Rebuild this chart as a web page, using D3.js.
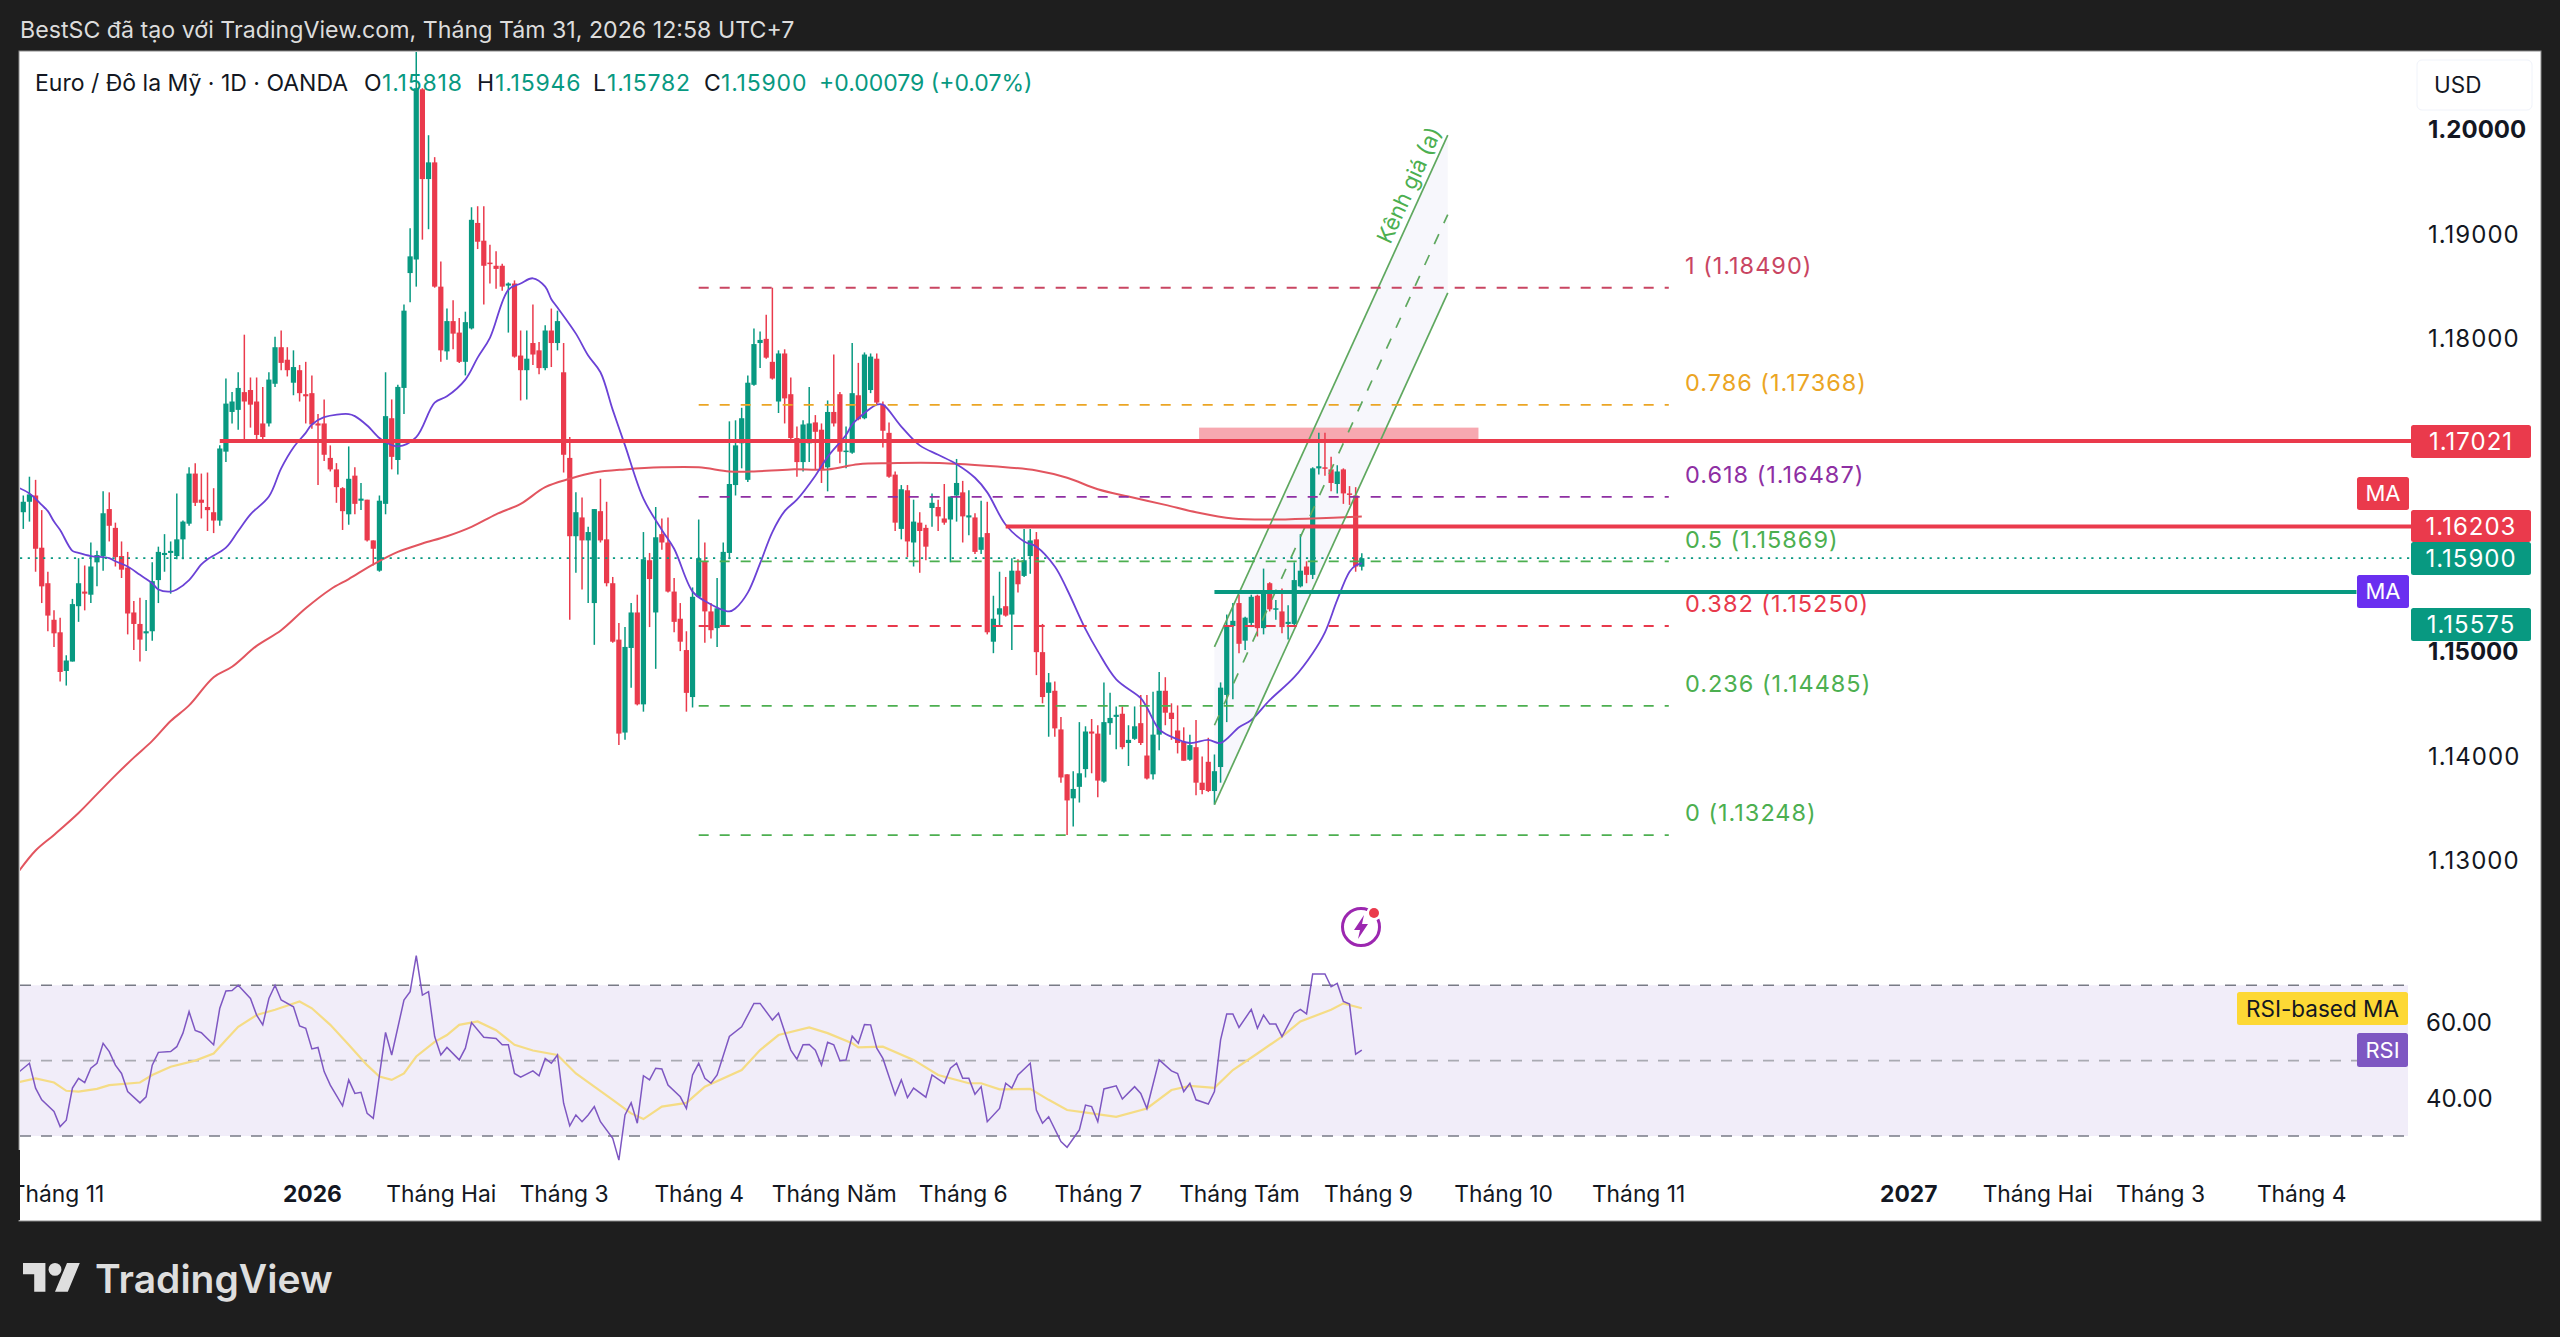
<!DOCTYPE html>
<html>
<head>
<meta charset="utf-8">
<title>EURUSD</title>
<script src="https://cdn.jsdelivr.net/npm/d3@7"></script>
<style>
html, body { margin: 0; padding: 0; background: #1e1e1e; }
svg { display: block; }
text { font-family: Inter, "Noto Sans", sans-serif; }
</style>
</head>
<body>
<script>
"use strict";
const candleOpen = [1.1634,1.1644,1.1650,1.1600,1.1566,1.1531,1.1519,1.1482,1.1491,1.1544,1.1558,1.1555,1.1586,1.1592,1.1637,1.1619,1.1592,1.1581,1.1538,1.1527,1.1518,1.1520,1.1569,1.1593,1.1595,1.1592,1.1608,1.1623,1.1671,1.1646,1.1639,1.1634,1.1626,1.1692,1.1730,1.1732,1.1749,1.1751,1.1740,1.1719,1.1719,1.1757,1.1792,1.1780,1.1758,1.1770,1.1747,1.1748,1.1719,1.1719,1.1686,1.1675,1.1657,1.1632,1.1669,1.1645,1.1646,1.1607,1.1578,1.1642,1.1724,1.1684,1.1753,1.1863,1.1876,1.2039,1.1953,1.1969,1.1850,1.1788,1.1817,1.1806,1.1778,1.1810,1.1911,1.1894,1.1873,1.1870,1.1870,1.1851,1.1853,1.1784,1.1770,1.1796,1.1789,1.1772,1.1808,1.1796,1.1768,1.1686,1.1611,1.1629,1.1607,1.1547,1.1635,1.1608,1.1566,1.1512,1.1423,1.1504,1.1538,1.1450,1.1588,1.1538,1.1613,1.1605,1.1558,1.1532,1.1502,1.1457,1.1553,1.1587,1.1539,1.1523,1.1526,1.1595,1.1660,1.1700,1.1665,1.1756,1.1796,1.1800,1.1778,1.1740,1.1786,1.1747,1.1705,1.1682,1.1700,1.1720,1.1713,1.1677,1.1730,1.1747,1.1692,1.1691,1.1746,1.1724,1.1751,1.1781,1.1737,1.1710,1.1670,1.1618,1.1655,1.1605,1.1624,1.1619,1.1638,1.1639,1.1628,1.1627,1.1650,1.1653,1.1629,1.1629,1.1598,1.1614,1.1510,1.1536,1.1544,1.1536,1.1578,1.1573,1.1592,1.1608,1.1500,1.1461,1.1463,1.1426,1.1383,1.1360,1.1371,1.1388,1.1424,1.1422,1.1376,1.1432,1.1438,1.1441,1.1413,1.1417,1.1432,1.1401,1.1383,1.1421,1.1463,1.1442,1.1425,1.1414,1.1397,1.1409,1.1375,1.1395,1.1367,1.1390,1.1459,1.1525,1.1547,1.1511,1.1528,1.1554,1.1523,1.1566,1.1541,1.1539,1.1527,1.1527,1.1563,1.1582,1.1574,1.1676,1.1677,1.1675,1.1661,1.1675,1.1652,1.1650,1.15818];
const candleHigh = [1.1650,1.1668,1.1665,1.1636,1.1577,1.1540,1.1533,1.1497,1.1551,1.1590,1.1583,1.1605,1.1597,1.1654,1.1653,1.1624,1.1606,1.1596,1.1549,1.1552,1.1550,1.1586,1.1601,1.1613,1.1606,1.1652,1.1626,1.1677,1.1681,1.1671,1.1672,1.1657,1.1698,1.1762,1.1749,1.1768,1.1804,1.1763,1.1763,1.1754,1.1768,1.1802,1.1808,1.1792,1.1789,1.1775,1.1778,1.1765,1.1728,1.1742,1.1698,1.1681,1.1658,1.1697,1.1677,1.1662,1.1646,1.1607,1.1650,1.1768,1.1742,1.1756,1.1833,1.1906,1.2075,1.2040,1.1995,1.1974,1.1874,1.1829,1.1837,1.1820,1.1826,1.1926,1.1927,1.1927,1.1890,1.1884,1.1872,1.1854,1.1856,1.1808,1.1808,1.1833,1.1797,1.1813,1.1829,1.1827,1.1796,1.1706,1.1653,1.1648,1.1620,1.1637,1.1666,1.1644,1.1572,1.1528,1.1524,1.1547,1.1555,1.1615,1.1595,1.1639,1.1628,1.1629,1.1571,1.1547,1.1520,1.1562,1.1627,1.1605,1.1547,1.1571,1.1605,1.1721,1.1722,1.1734,1.1765,1.1810,1.1807,1.1823,1.1849,1.1789,1.1790,1.1763,1.1716,1.1722,1.1754,1.1727,1.1719,1.1741,1.1785,1.1749,1.1716,1.1796,1.1777,1.1787,1.1786,1.1786,1.1740,1.1720,1.1673,1.1660,1.1660,1.1646,1.1634,1.1622,1.1652,1.1646,1.1661,1.1649,1.1685,1.1664,1.1655,1.1633,1.1645,1.1644,1.1554,1.1577,1.1572,1.1590,1.1589,1.1618,1.1618,1.1615,1.1527,1.1480,1.1472,1.1438,1.1383,1.1386,1.1433,1.1429,1.1436,1.1430,1.1471,1.1461,1.1448,1.1448,1.1430,1.1448,1.1459,1.1459,1.1462,1.1481,1.1476,1.1451,1.1449,1.1428,1.1421,1.1435,1.1400,1.1418,1.1402,1.1471,1.1536,1.1547,1.1555,1.1534,1.1555,1.1555,1.1580,1.1567,1.1550,1.1561,1.1545,1.1586,1.1613,1.1587,1.1677,1.1710,1.1710,1.1687,1.1679,1.1676,1.1659,1.1658,1.15946];
const candleLow = [1.1618,1.1625,1.1577,1.1547,1.1520,1.1505,1.1472,1.1468,1.1491,1.1529,1.1540,1.1547,1.1563,1.1578,1.1606,1.1582,1.1571,1.1517,1.1502,1.1491,1.1501,1.1511,1.1547,1.1577,1.1556,1.1589,1.1589,1.1621,1.1640,1.1628,1.1616,1.1614,1.1621,1.1682,1.1719,1.1713,1.1703,1.1715,1.1703,1.1701,1.1716,1.1754,1.1770,1.1764,1.1746,1.1740,1.1719,1.1714,1.1660,1.1683,1.1673,1.1643,1.1617,1.1622,1.1632,1.1636,1.1606,1.1583,1.1577,1.1632,1.1675,1.1670,1.1728,1.1835,1.1850,1.1895,1.1905,1.1849,1.1778,1.1780,1.1790,1.1777,1.1765,1.1809,1.1886,1.1833,1.1853,1.1848,1.1846,1.1806,1.1782,1.1741,1.1742,1.1775,1.1766,1.1770,1.1773,1.1789,1.1672,1.1531,1.1576,1.1560,1.1547,1.1507,1.1605,1.1563,1.1509,1.1411,1.1416,1.1466,1.1449,1.1443,1.1524,1.1484,1.1598,1.1557,1.1519,1.1501,1.1443,1.1447,1.1552,1.1509,1.1513,1.1505,1.1524,1.1589,1.1650,1.1676,1.1663,1.1755,1.1772,1.1781,1.1761,1.1729,1.1719,1.1704,1.1668,1.1673,1.1682,1.1675,1.1662,1.1654,1.1716,1.1681,1.1676,1.1690,1.1722,1.1723,1.1748,1.1737,1.1696,1.1667,1.1616,1.1608,1.1591,1.1582,1.1576,1.1588,1.1620,1.1616,1.1622,1.1586,1.1625,1.1605,1.1612,1.1594,1.1594,1.1517,1.1499,1.1526,1.1534,1.1502,1.1557,1.1572,1.1575,1.1478,1.1451,1.1419,1.1419,1.1375,1.1325,1.1333,1.1356,1.1380,1.1384,1.1361,1.1375,1.1421,1.1407,1.1407,1.1391,1.1416,1.1411,1.1378,1.1378,1.1406,1.1430,1.1416,1.1403,1.1396,1.1396,1.1363,1.1364,1.1366,1.1354,1.1375,1.1433,1.1455,1.1499,1.1502,1.1524,1.1515,1.1517,1.1539,1.1531,1.1518,1.1512,1.1526,1.1562,1.1566,1.1570,1.1670,1.1669,1.1654,1.1652,1.1642,1.1641,1.1577,1.15782];
const candleClose = [1.1644,1.1651,1.1599,1.1563,1.1535,1.1518,1.1481,1.1492,1.1546,1.1566,1.1556,1.1582,1.1593,1.1633,1.1621,1.1591,1.1579,1.1537,1.1527,1.1512,1.1520,1.1568,1.1596,1.1595,1.1597,1.1608,1.1625,1.1671,1.1643,1.1643,1.1636,1.1626,1.1695,1.1738,1.1740,1.1753,1.1740,1.1737,1.1708,1.1706,1.1761,1.1792,1.1777,1.1770,1.1773,1.1748,1.1745,1.1718,1.1717,1.1689,1.1675,1.1658,1.1635,1.1666,1.1642,1.1647,1.1607,1.1599,1.1645,1.1726,1.1687,1.1754,1.1827,1.1879,1.2040,1.1953,1.1969,1.1850,1.1789,1.1817,1.1805,1.1778,1.1816,1.1914,1.1893,1.1870,1.1872,1.1867,1.1850,1.1853,1.1783,1.1770,1.1781,1.1785,1.1772,1.1808,1.1796,1.1817,1.1689,1.1611,1.1634,1.1607,1.1615,1.1637,1.1607,1.1566,1.1510,1.1422,1.1505,1.1538,1.1450,1.1589,1.1570,1.1610,1.1605,1.1558,1.1529,1.1510,1.1461,1.1553,1.1590,1.1539,1.1521,1.1542,1.1596,1.1661,1.1698,1.1724,1.1758,1.1795,1.1799,1.1782,1.1762,1.1786,1.1743,1.1705,1.1682,1.1718,1.1719,1.1711,1.1675,1.1730,1.1719,1.1692,1.1693,1.1748,1.1723,1.1785,1.1783,1.1739,1.1712,1.1668,1.1624,1.1656,1.1606,1.1625,1.1616,1.1601,1.1643,1.1630,1.1624,1.1649,1.1662,1.1630,1.1631,1.1596,1.1610,1.1519,1.1532,1.1542,1.1535,1.1578,1.1565,1.1588,1.1607,1.1500,1.1457,1.1471,1.1427,1.1380,1.1358,1.1369,1.1384,1.1424,1.1422,1.1377,1.1433,1.1437,1.1440,1.1409,1.1416,1.1429,1.1413,1.1379,1.1421,1.1463,1.1442,1.1436,1.1413,1.1396,1.1411,1.1375,1.1368,1.1367,1.1386,1.1466,1.1526,1.1530,1.1508,1.1533,1.1553,1.1523,1.1557,1.1541,1.1542,1.1524,1.1529,1.1569,1.1578,1.1574,1.1676,1.1678,1.1676,1.1662,1.1673,1.1652,1.1651,1.1582,1.15900];

const fastMaBars = [-1,1,3,4,5,6,8,9,11,14,15,17,19,21,22,24,25,27,29,30,33,35,37,40,42,44,46,47,49,53,54,56,58,59,61,64,67,69,72,74,76,79,81,83,85,86,87,90,92,94,96,98,101,104,106,109,111,115,116,118,120,122,124,126,129,131,134,135,136,139,140,143,146,149,152,155,157,160,163,165,168,170,173,175,178,182,183,185,187,190,193,195,198,200,203,207,210,212,214,216,217,218];
const fastMaValues = [1.1658,1.1652,1.1641,1.1635,1.1625,1.1617,1.1597,1.1595,1.1592,1.1590,1.1587,1.1582,1.1574,1.1566,1.1560,1.1558,1.1560,1.1569,1.1584,1.1589,1.1600,1.1616,1.1632,1.1649,1.1676,1.1696,1.1710,1.1718,1.1725,1.1728,1.1726,1.1717,1.1705,1.1701,1.1697,1.1706,1.1739,1.1745,1.1761,1.1782,1.1801,1.1847,1.1853,1.1858,1.1850,1.1838,1.1830,1.1805,1.1784,1.1768,1.1732,1.1698,1.1647,1.1617,1.1599,1.1558,1.1549,1.1539,1.1542,1.1557,1.1585,1.1615,1.1635,1.1646,1.1669,1.1687,1.1708,1.1718,1.1724,1.1737,1.1737,1.1716,1.1698,1.1689,1.1680,1.1667,1.1653,1.1622,1.1606,1.1601,1.1582,1.1560,1.1522,1.1501,1.1474,1.1456,1.1447,1.1426,1.1419,1.1413,1.1416,1.1413,1.1428,1.1435,1.1454,1.1476,1.1499,1.1519,1.1550,1.1577,1.1583,1.1585];

const slowMaBars = [-1,2,5,9,12,15,18,21,24,27,31,34,38,42,46,50,53,57,61,65,69,73,77,81,85,89,93,98,104,110,115,119,125,131,136,141,150,158,165,170,175,180,186,191,197,203,210,218];
const slowMaValues = [1.1288,1.1310,1.1325,1.1346,1.1364,1.1382,1.1399,1.1415,1.1434,1.1449,1.1476,1.1486,1.1506,1.1521,1.1542,1.1560,1.1570,1.1584,1.1596,1.1604,1.1611,1.1620,1.1632,1.1642,1.1658,1.1666,1.1672,1.1675,1.1677,1.1677,1.1673,1.1673,1.1675,1.1675,1.1680,1.1681,1.1681,1.1678,1.1674,1.1667,1.1656,1.1649,1.1641,1.1634,1.1628,1.1627,1.1628,1.1630];

const rsiBars = [-1,1,2,3,5,6,7,8,9,10,11,12,13,14,15,16,17,19,20,21,22,24,25,26,27,28,29,31,32,33,34,35,37,38,39,40,41,42,44,45,46,47,48,49,50,52,53,54,55,56,57,59,60,62,63,64,65,66,67,68,69,71,72,73,75,77,78,79,80,81,83,84,85,86,87,88,89,90,91,92,93,94,96,97,98,99,100,101,102,103,104,105,107,108,109,110,111,112,113,115,117,119,120,122,123,125,126,127,128,129,130,131,132,133,134,135,136,137,138,139,140,142,143,144,145,147,148,150,151,152,153,154,155,156,157,159,160,161,162,164,165,166,167,169,170,172,173,174,175,176,178,179,181,182,183,185,187,188,189,190,191,193,194,195,196,197,198,200,201,202,203,204,205,207,208,209,210,212,213,214,215,216,217,218];
const rsiValues = [46.6,49.3,42.7,39.6,36.5,32.5,34.2,42.7,45.3,44.2,48.0,49.3,54.6,52.4,48.8,46.6,41.8,38.8,40.4,48.8,52.2,52.4,53.7,57.3,63.0,58.0,57.4,54.2,63.9,68.5,68.6,70.0,66.5,62.1,59.5,66.5,70.0,66.1,64.3,59.2,58.6,53.1,53.5,47.1,43.5,38.0,44.9,41.3,41.6,36.0,34.7,57.5,51.5,66.1,68.3,77.9,67.4,68.3,56.4,51.5,53.5,50.2,53.3,60.1,56.2,55.9,54.2,54.2,46.6,45.6,47.3,46.0,50.6,49.3,51.5,38.7,32.7,35.6,33.8,35.6,37.8,33.8,29.4,23.6,35.6,38.8,33.4,46.0,44.9,48.0,47.8,43.5,40.4,37.3,46.2,49.3,45.3,44.0,46.2,56.4,59.0,65.2,65.2,60.8,62.6,52.8,50.4,54.2,54.3,52.8,48.8,54.9,54.2,50.0,50.2,56.5,54.6,59.6,59.5,53.3,50.6,40.9,44.9,40.2,42.7,40.3,46.2,44.0,48.0,49.3,45.3,45.3,41.1,43.1,33.8,37.3,44.0,42.7,46.2,49.3,36.9,33.4,35.1,28.5,27.0,31.6,38.2,37.8,33.8,42.5,43.3,39.8,43.1,41.3,37.3,50.2,47.3,46.6,41.8,44.0,39.6,38.5,41.8,55.5,62.4,62.4,58.8,63.6,58.6,62.1,59.7,59.7,56.4,62.6,63.6,62.4,73.0,73.0,69.6,70.5,65.7,65.0,51.7,52.8];

const rsiMaBars = [-1,2,5,7,9,12,14,19,21,24,28,31,33,35,38,41,45,47,50,53,56,58,60,62,64,67,69,71,74,77,80,83,87,90,93,96,99,101,104,108,111,117,120,123,128,131,135,136,140,145,149,154,156,159,164,167,170,174,178,183,187,190,194,197,201,205,208,213,215,218];
const rsiMaValues = [44.2,45.3,44.2,42.0,41.8,42.5,43.5,44.2,46.2,48.4,50.0,51.9,55.5,59.0,62.1,63.5,65.7,63.9,59.5,54.2,48.8,45.8,44.9,46.6,51.1,55.0,56.8,59.5,60.4,58.1,54.2,52.7,51.5,46.6,43.1,39.6,36.0,34.5,37.8,38.8,43.1,47.5,52.8,56.8,58.8,57.3,54.6,53.5,53.7,50.2,46.2,44.0,44.0,42.4,42.5,39.6,36.9,36.0,35.1,37.3,42.2,43.3,42.8,47.5,51.9,56.4,60.4,63.5,65.2,63.9];

const priceTicks = [1.13, 1.14, 1.15, 1.18, 1.19, 1.2];
const boldPriceTicks = [1.15, 1.2];
const rsiTicks = [40, 60];
const rsiBands = [70, 50, 30];

const timeTickBars = [5.5, 47, 68, 88, 110, 132, 153, 175, 198, 219, 241, 263, 307, 328, 348, 371];
const timeTickLabels = ["Tháng 11", "2026", "Tháng Hai", "Tháng 3", "Tháng 4", "Tháng Năm", "Tháng 6", "Tháng 7", "Tháng Tám", "Tháng 9", "Tháng 10", "Tháng 11", "2027", "Tháng Hai", "Tháng 3", "Tháng 4"];
const boldTimeLabels = ["2026", "2027"];

const fibRatios = ["1", "0.786", "0.618", "0.5", "0.382", "0.236", "0"];
const fibPrices = [1.1849, 1.17368, 1.16487, 1.15869, 1.1525, 1.14485, 1.13248];
const fibColors = ["#c94562", "#eba524", "#8e2fa3", "#4caf50", "#e8394c", "#4caf50", "#4caf50"];
const fibBars = [110, 268];

const resistanceBars = [32, 389];
const resistancePrice = 1.17021;
const supportHighBars = [160, 389];
const supportHighPrice = 1.16203;
const supportLowBars = [194, 380];
const supportLowPrice = 1.15575;
const lastPrice = 1.159;

const zoneBars = [191.5, 237];
const zonePrices = [1.1715, 1.17021];

const channelBars = [194, 232];
const channelUpper = [1.1505, 1.1995];
const channelMiddle = [1.1430, 1.1919];
const channelLower = [1.1354, 1.1844];

const green = "#089981";
const red = "#ea3a4c";
const purple = "#6b42d6";
const rsiPurple = "#7e57c2";
const ink = "#131722";

const size = {"width": 2560, "height": 1337};
const panel = {"left": 20, "top": 52, "right": 2540, "bottom": 1220};

const x = d3.scaleLinear().domain([0, 218]).range([23.3, 1361.8]);
const y = d3.scaleLinear().domain([1.13, 1.2]).range([861, 130]);
const yRsi = d3.scaleLinear().domain([30, 70]).range([1136, 985.3]);

const svg = d3.select("body").append("svg").attr("width", size.width).attr("height", size.height);

svg.append("rect").attr("width", size.width).attr("height", size.height).attr("fill", "#1e1e1e");
svg.append("text").attr("x", 20).attr("y", 30).attr("dy", "0.35em").attr("font-size", 23.2).attr("fill", "#dcdcdc")
	.text("BestSC đã tạo với TradingView.com, Tháng Tám 31, 2026 12:58 UTC+7");

svg.append("rect").attr("x", panel.left - 1).attr("y", panel.top - 1).attr("width", panel.right - panel.left + 2).attr("height", panel.bottom - panel.top + 2).attr("fill", "#ffffff").attr("stroke", "#8a8a8a").attr("stroke-width", 1);

const defs = svg.append("defs");
defs.append("clipPath").attr("id", "plot").append("rect").attr("x", panel.left).attr("y", panel.top).attr("width", 2391).attr("height", 1120);
const plot = svg.append("g").attr("clip-path", "url(#plot)");

// rsi pane
plot.append("rect").attr("x", panel.left).attr("width", 2388).attr("y", yRsi(70)).attr("height", yRsi(30) - yRsi(70)).attr("fill", "#f1edf9");
rsiBands.forEach(b => {
	plot.append("line").attr("x1", panel.left).attr("x2", 2408).attr("y1", yRsi(b)).attr("y2", yRsi(b))
		.attr("stroke", b === 50 ? "#a9aab2" : "#787b86").attr("stroke-width", 1.6).attr("stroke-dasharray", "11 10");
});

// channel and zone under the candles
const channelFill = d3.area().x(d => x(d.bar)).y0(d => y(d.low)).y1(d => y(d.high));
plot.append("path")
	.datum(channelBars.map((b, i) => ({"bar": b, "low": channelLower[i], "high": channelUpper[i]})))
	.attr("d", channelFill).attr("fill", "#f7f7fc");
plot.append("rect").attr("x", x(zoneBars[0])).attr("width", x(zoneBars[1]) - x(zoneBars[0])).attr("y", y(zonePrices[0])).attr("height", y(zonePrices[1]) - y(zonePrices[0])).attr("fill", "#f7a8b0");

// candles
const candles = candleOpen.map((o, i) => ({"i": i, "o": o, "h": candleHigh[i], "l": candleLow[i], "c": candleClose[i]}));
const candleColor = d => d.c >= d.o ? green : red;
plot.selectAll("line.wick")
	.data(candles)
	.enter()
	.append("line")
	.attr("class", "wick")
	.attr("x1", d => x(d.i))
	.attr("x2", d => x(d.i))
	.attr("y1", d => y(d.h))
	.attr("y2", d => y(d.l))
	.attr("stroke", candleColor)
	.attr("stroke-width", 1.5);
plot.selectAll("rect.body")
	.data(candles)
	.enter()
	.append("rect")
	.attr("class", "body")
	.attr("x", d => x(d.i) - 2.6)
	.attr("width", 5.2)
	.attr("y", d => y(Math.max(d.o, d.c)))
	.attr("height", d => Math.max(1.5, Math.abs(y(d.o) - y(d.c))))
	.attr("fill", candleColor);

// moving averages
const priceLine = d3.line().x(d => x(d[0])).y(d => y(d[1])).curve(d3.curveCatmullRom);
plot.append("path").attr("d", priceLine(slowMaBars.map((b, i) => [b, slowMaValues[i]]))).attr("fill", "none").attr("stroke", "#e2555f").attr("stroke-width", 2);
plot.append("path").attr("d", priceLine(fastMaBars.map((b, i) => [b, fastMaValues[i]]))).attr("fill", "none").attr("stroke", purple).attr("stroke-width", 1.8);

// rsi lines
const rsiLine = d3.line().x(d => x(d[0])).y(d => yRsi(d[1]));
plot.append("path").attr("d", rsiLine(rsiMaBars.map((b, i) => [b, rsiMaValues[i]]))).attr("fill", "none").attr("stroke", "#f5dc85").attr("stroke-width", 2.2);
plot.append("path").attr("d", rsiLine(rsiBars.map((b, i) => [b, rsiValues[i]]))).attr("fill", "none").attr("stroke", rsiPurple).attr("stroke-width", 1.5);

// channel lines
[channelUpper, channelLower, channelMiddle].forEach((line, n) => {
	plot.append("line")
		.attr("x1", x(channelBars[0])).attr("y1", y(line[0]))
		.attr("x2", x(channelBars[1])).attr("y2", y(line[1]))
		.attr("stroke", "#5fa85f").attr("stroke-width", 1.7)
		.attr("stroke-dasharray", n === 2 ? "11 12" : null);
});
const topEnd = [x(channelBars[1]), y(channelUpper[1])];
const topStart = [x(channelBars[0]), y(channelUpper[0])];
const channelAngle = Math.atan2(topEnd[1] - topStart[1], topEnd[0] - topStart[0]) * 180 / Math.PI;
plot.append("text")
	.attr("transform", "translate(1409,185) rotate(" + channelAngle + ")")
	.attr("text-anchor", "middle").attr("dy", "0.35em").attr("font-size", 22).attr("fill", "#4caf50")
	.text("Kênh giá (a)");

// fib retracement
fibPrices.forEach((p, i) => {
	plot.append("line").attr("x1", x(fibBars[0])).attr("x2", x(fibBars[1])).attr("y1", y(p)).attr("y2", y(p))
		.attr("stroke", fibColors[i]).attr("stroke-width", 1.9).attr("stroke-dasharray", "10 11");
	plot.append("text").attr("x", 1685).attr("y", y(p) - 22).attr("dy", "0.35em").attr("font-size", 23.5).attr("letter-spacing", 1).attr("fill", fibColors[i])
		.text(fibRatios[i] + " (" + p.toFixed(5) + ")");
});

// horizontal levels
const level = (bars, price, color) => {
	plot.append("line").attr("x1", x(bars[0])).attr("x2", x(bars[1])).attr("y1", y(price)).attr("y2", y(price))
		.attr("stroke", color).attr("stroke-width", 4);
};
level(resistanceBars, resistancePrice, red);
level(supportHighBars, supportHighPrice, red);
level(supportLowBars, supportLowPrice, green);
plot.append("line").attr("x1", panel.left).attr("x2", 2411).attr("y1", y(lastPrice)).attr("y2", y(lastPrice))
	.attr("stroke", green).attr("stroke-width", 1.8).attr("stroke-dasharray", "2.2 5.5");

// legend
const legendParts = [
	["Euro / Đô la Mỹ · 1D · OANDA", 35, ink, 0],
	["O", 364, ink, 0], ["1.15818", 382, green, 0.8],
	["H", 477, ink, 0], ["1.15946", 495, green, 0.8],
	["L", 593, ink, 0], ["1.15782", 607, green, 0.8],
	["C", 704, ink, 0], ["1.15900", 721, green, 0.8],
	["+0.00079 (+0.07%)", 819, green, 0]
];
legendParts.forEach(d => {
	svg.append("text").attr("x", d[1]).attr("y", 83).attr("dy", "0.35em").attr("font-size", 23).attr("letter-spacing", d[3]).attr("fill", d[2]).text(d[0]);
});

// price axis
const priceAxis = d3.axisRight(y).tickValues(priceTicks).tickSize(0).tickPadding(0).tickFormat(d3.format(".5f"));
const priceG = svg.append("g").attr("transform", "translate(2428,0)").call(priceAxis);
priceG.select(".domain").remove();
priceG.selectAll("text").attr("font-family", "Inter").attr("font-size", 24).attr("fill", ink)
	.attr("letter-spacing", d => boldPriceTicks.includes(d) ? 0 : 1)
	.attr("font-weight", d => boldPriceTicks.includes(d) ? 700 : 400);

const rsiAxis = d3.axisRight(yRsi).tickValues(rsiTicks).tickSize(0).tickPadding(0).tickFormat(d3.format(".2f"));
const rsiG = svg.append("g").attr("transform", "translate(2426,0)").call(rsiAxis);
rsiG.select(".domain").remove();
rsiG.selectAll("text").attr("font-family", "Inter").attr("font-size", 24).attr("fill", ink);

// time axis
const timeAxis = d3.axisBottom(x).tickValues(timeTickBars).tickSize(0).tickPadding(0).tickFormat((d, i) => timeTickLabels[i]);
const timeG = svg.append("g").attr("transform", "translate(0,1186)").call(timeAxis);
timeG.select(".domain").remove();
timeG.selectAll("text").attr("font-family", "Inter").attr("font-size", 22.8).attr("fill", ink)
	.attr("font-weight", (d, i) => boldTimeLabels.includes(timeTickLabels[i]) ? 700 : 400);
svg.append("rect").attr("x", 0).attr("y", 1150).attr("width", panel.left).attr("height", 70).attr("fill", "#1e1e1e");

// boxes on the scale
const tag = (left, right, top, bottom, fill, label, textColor, fontSize, spacing) => {
	svg.append("rect").attr("x", left).attr("y", top).attr("width", right - left).attr("height", bottom - top).attr("rx", 2.5).attr("fill", fill);
	svg.append("text").attr("x", (left + right) / 2).attr("y", (top + bottom) / 2).attr("dy", "0.36em").attr("text-anchor", "middle")
		.attr("font-size", fontSize).attr("letter-spacing", spacing).attr("fill", textColor).text(label);
};
tag(2411, 2531, 425, 458, red, resistancePrice.toFixed(5), "#ffffff", 24, 1);
tag(2357, 2409, 477, 510, red, "MA", "#ffffff", 22, 0);
tag(2411, 2531, 510, 542, red, supportHighPrice.toFixed(5), "#ffffff", 24, 1);
tag(2411, 2531, 542, 575, green, lastPrice.toFixed(5), "#ffffff", 24, 1);
tag(2357, 2409, 575, 608, "#6a2ff0", "MA", "#ffffff", 22, 0);
tag(2411, 2531, 608, 641, green, supportLowPrice.toFixed(5), "#ffffff", 24, 1);
tag(2237, 2408, 992, 1025, "#fdd835", "RSI-based MA", ink, 22.5, 0);
tag(2357, 2408, 1033, 1067, rsiPurple, "RSI", "#ffffff", 22, 0);

svg.append("rect").attr("x", 2417).attr("y", 60).attr("width", 115).attr("height", 50).attr("rx", 5).attr("fill", "#ffffff").attr("stroke", "#f0f3fa");
svg.append("text").attr("x", 2434).attr("y", 85).attr("dy", "0.35em").attr("font-size", 22.5).attr("fill", ink).text("USD");

// lightning marker
const marker = svg.append("g").attr("transform", "translate(1361,927)");
marker.append("circle").attr("r", 18.5).attr("fill", "#ffffff").attr("stroke", "#9c27b0").attr("stroke-width", 3);
marker.append("path").attr("d", "M3,-12 L-7,3 L-1,3 L-3,12 L7,-3 L1,-3 Z").attr("fill", "#9c27b0");
marker.append("circle").attr("cx", 13).attr("cy", -14).attr("r", 7.5).attr("fill", "#ffffff");
marker.append("circle").attr("cx", 13).attr("cy", -14).attr("r", 5).attr("fill", "#ea3a4c");

// logo
const logo = svg.append("g").attr("transform", "translate(23,1256.6) scale(1.6)").attr("fill", "#dedede");
logo.append("path").attr("d", "M14 22H7V11H0V4h14v18zM28 22h-8l7.5-18h8L28 22z");
logo.append("circle").attr("cx", 20).attr("cy", 8).attr("r", 4);
svg.append("text").attr("x", 95).attr("y", 1279).attr("dy", "0.35em").attr("font-size", 39).attr("font-weight", 600).attr("fill", "#dedede").text("TradingView");
</script>
</body>
</html>
